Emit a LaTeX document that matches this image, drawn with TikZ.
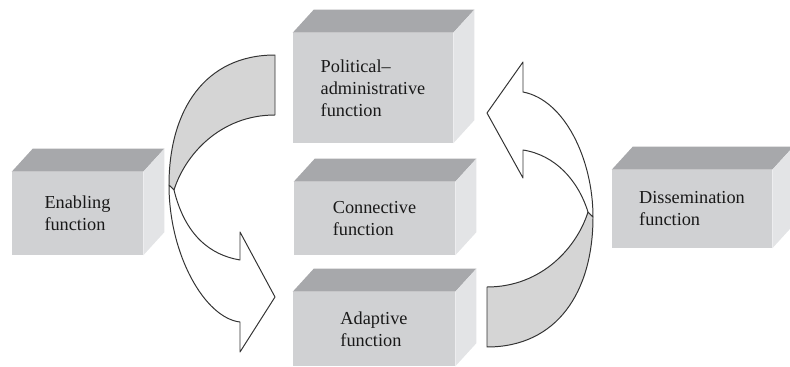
\documentclass[tikz,border=0pt]{standalone}
\usepackage{fontspec}
\setmainfont{Liberation Serif}

\definecolor{frontgray}{RGB}{208,209,211}
\definecolor{topgray}{RGB}{167,168,171}
\definecolor{sidegray}{RGB}{227,228,230}
\definecolor{ribbongray}{RGB}{213,213,213}

\tikzset{
  front/.style={fill=frontgray, inner sep=0pt, align=left, text=black!90,
    font=\fontsize{13}{15.6}\selectfont},
  ribbon/.style={draw=black!80, line width=0.7pt, line join=round}
}

% top and side faces behind a front face
\newcommand\boxdepth[1]{%
  \fill[topgray] (#1.north west) -- ++(21,-23) -- ([shift={(21,-23)}]#1.north east) -- (#1.north east) -- cycle;
  \fill[sidegray] (#1.north east) -- ++(21,-23) -- ([shift={(21,-23)}]#1.south east) -- (#1.south east) -- cycle;}

\begin{document}
\begin{tikzpicture}[x=0.025cm, y=-0.025cm]
	\useasboundingbox (0,0) rectangle (790,367);

	% function boxes
	\node[front, minimum width=3.275cm, minimum height=2.075cm] (enab) at (77.5,213.5) {Enabling\\function};
	\node[front, minimum width=4cm, minimum height=2.75cm] (polit) at (373,88) {Political--\\administrative\\function};
	\node[front, minimum width=4.025cm, minimum height=1.825cm] (conn) at (374.5,218.5) {Connective\\function};
	\node[front, minimum width=4.05cm, minimum height=1.85cm] (adapt) at (374,329) {Adaptive\\function};
	\node[front, minimum width=4cm, minimum height=1.95cm] (dissem) at (692,209) {Dissemination\\function};
	\boxdepth{enab}
	\boxdepth{polit}
	\boxdepth{conn}
	\boxdepth{adapt}
	\boxdepth{dissem}

	% left twisted arrow (down)
	\filldraw[ribbon, fill=ribbongray] (275,55) .. controls (205,55) and (169,110) .. (169,185)
		-- (174,190) .. controls (185,155) and (220,115) .. (275,115) -- cycle;
	\filldraw[ribbon, fill=white] (169,185) .. controls (169,255) and (205,318) .. (240,322)
		-- (240,352) -- (275,297) -- (240,232) -- (240,260)
		.. controls (210,255) and (185,235) .. (174,190) -- cycle;

	% right twisted arrow (up)
	\filldraw[ribbon, fill=ribbongray] (487,347) .. controls (557,347) and (593,292) .. (593,217)
		-- (588,212) .. controls (577,247) and (542,287) .. (487,287) -- cycle;
	\filldraw[ribbon, fill=white] (593,217) .. controls (593,160) and (565,100) .. (523,92)
		-- (523,62) -- (487,113) -- (523,178) -- (523,150)
		.. controls (555,155) and (578,180) .. (588,212) -- cycle;
\end{tikzpicture}
\end{document}
